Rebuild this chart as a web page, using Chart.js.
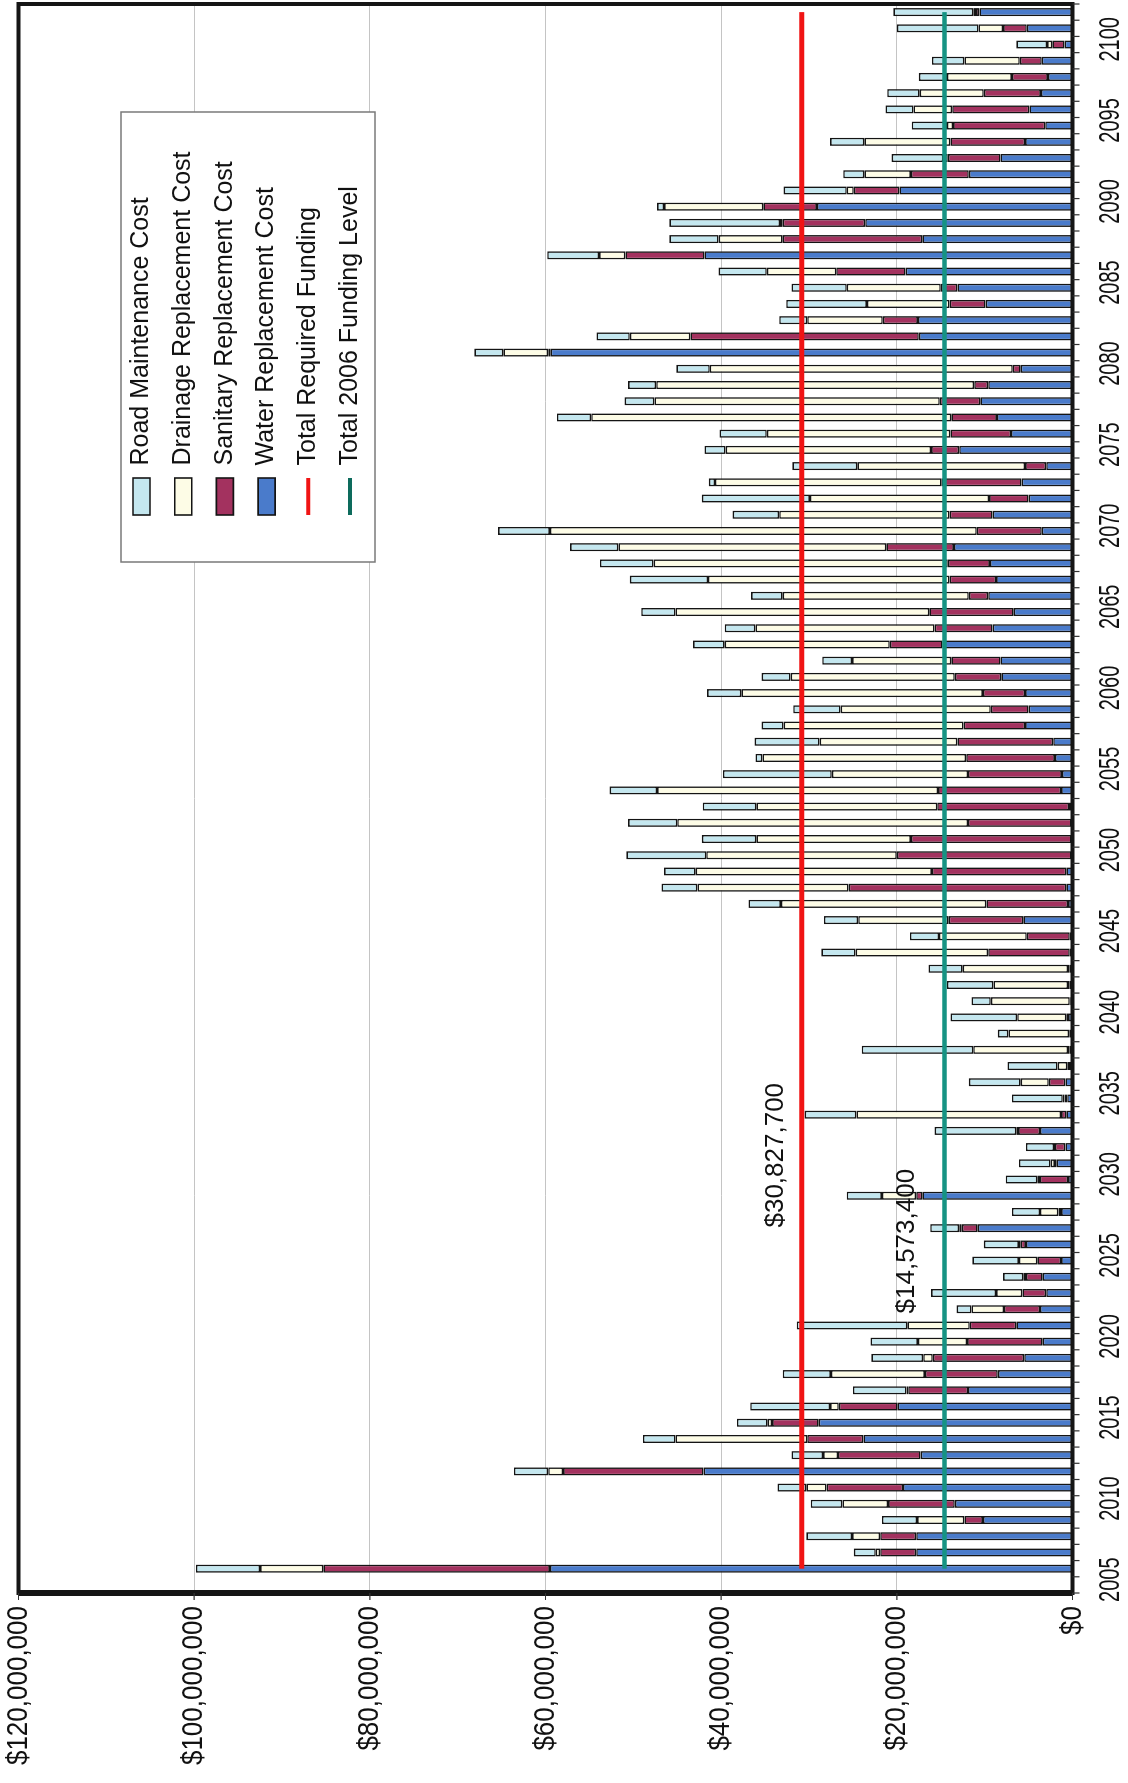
<!DOCTYPE html>
<html>
<head>
<meta charset="utf-8">
<script src="https://cdn.jsdelivr.net/npm/chart.js@4.4.1/dist/chart.umd.min.js"></script>
<style>
  html, body { margin: 0; padding: 0; background: #ffffff; overflow: hidden; }
  #wrap { position: absolute; left: 0; top: 0; width: 1128px; height: 1783px; overflow: hidden; background: #fff; }
  #c { position: absolute; left: 0; top: 0; width: 1783px; height: 1128px;
       transform-origin: 0 0; transform: translate(0px, 1783px) rotate(-90deg); }
</style>
</head>
<body>
<div id="wrap"><canvas id="c" width="1783" height="1128"></canvas></div>
<script>
// ---------- DATA (values in millions of dollars) ----------
const years = [2005,2006,2007,2008,2009,2010,2011,2012,2013,2014,2015,2016,2017,2018,2019,2020,
  2021,2022,2023,2024,2025,2026,2027,2028,2029,2030,2031,2032,2033,2034,2035,2036,2037,2038,2039,2040,
  2041,2042,2043,2044,2045,2046,2047,2048,2049,2050,2051,2052,2053,2054,2055,2056,2057,2058,2059,2060,
  2061,2062,2063,2064,2065,2066,2067,2068,2069,2070,2071,2072,2073,2074,2075,2076,2077,2078,2079,2080,
  2081,2082,2083,2084,2085,2086,2087,2088,2089,2090,2091,2092,2093,2094,2095,2096,2097,2098,2099,2100,2101];

const waterCost = [59.5,17.8,17.8,10.2,13.4,19.3,42.0,17.3,23.8,28.9,19.9,11.9,8.5,5.5,3.4,6.4,
  3.7,3.0,3.4,1.3,5.3,10.8,1.3,17.1,0.5,1.8,0.8,3.7,0.7,0.6,0.8,0.4,0.3,0.3,0.5,0.2,
  0.3,0.3,0.3,0.3,5.6,0.5,0.7,0.7,0.1,0.1,0.1,0.4,1.3,1.2,2.0,2.2,5.4,5.0,5.4,8.1,
  8.2,14.8,9.1,6.7,9.6,8.7,9.4,13.5,3.5,9.1,5.0,5.8,3.0,12.9,7.0,8.6,10.5,9.6,5.9,59.4,
  17.5,17.6,9.9,13.1,19.0,41.9,17.1,23.6,29.1,19.7,11.8,8.2,5.4,3.1,4.9,3.6,2.8,3.5,0.9,5.2,10.6];

const sanitaryCost = [25.8,4.1,4.1,2.1,7.6,8.7,16.0,9.4,6.4,5.3,6.7,6.8,8.3,10.4,8.6,5.3,
  4.1,2.7,1.9,2.7,0.6,1.8,0.3,0.7,3.2,0.2,1.2,2.5,0.6,0.3,1.9,0.2,0.2,0.1,0.2,0.1,
  0.2,0.2,9.3,4.9,8.5,9.3,24.8,15.3,19.9,18.3,11.8,15.0,14.0,10.7,10.1,10.9,7.0,4.3,4.8,5.3,
  5.6,6.0,6.6,9.6,2.2,5.3,4.8,7.7,7.4,4.9,4.5,9.1,2.4,3.2,6.9,5.2,4.6,1.6,0.9,0.3,
  26.0,4.0,4.1,1.9,7.9,9.0,15.9,9.4,6.1,5.2,6.6,6.0,8.5,10.5,8.8,6.5,4.1,2.5,1.4,2.7,0.4];

const drainageCost = [7.2,0.5,3.2,5.4,5.2,2.3,1.7,1.7,15.0,0.5,1.0,0.2,10.7,1.1,5.6,7.1,
  3.7,3.0,0.3,2.1,0.2,0.3,2.1,3.9,0.3,0.5,0.1,0.2,23.3,0.2,3.2,1.1,10.8,6.9,5.6,9.0,
  8.5,12.0,15.1,10.0,10.3,23.4,17.2,26.9,21.7,17.6,33.1,20.6,32.0,15.5,23.2,15.7,20.5,17.1,27.5,18.7,
  11.3,18.8,20.4,28.9,21.2,27.5,33.5,30.5,48.6,19.4,20.4,25.8,19.1,23.4,20.9,41.0,32.5,36.2,34.5,5.1,
  6.9,8.6,9.4,10.7,7.9,3.0,7.3,0.3,11.3,0.8,5.3,0.5,9.8,0.7,4.4,7.3,7.4,6.3,0.6,2.8,0.3];

const roadCost = [7.3,2.5,5.2,4.0,3.6,3.3,3.9,3.6,3.7,3.5,9.1,6.1,5.5,5.9,5.4,12.6,
  1.7,7.4,2.3,5.3,4.0,3.3,3.2,4.0,3.6,3.6,3.2,9.3,5.9,5.8,5.9,5.7,12.7,1.2,7.6,2.2,
  5.3,3.9,3.9,3.3,3.9,3.7,4.1,3.6,9.1,6.2,5.6,6.1,5.4,12.4,0.8,7.4,2.5,5.4,3.9,3.3,
  3.4,3.6,3.5,3.9,3.6,8.9,6.1,5.5,5.9,5.3,12.3,0.7,7.4,2.4,5.4,3.9,3.4,3.2,3.8,3.3,
  3.8,3.2,9.2,6.3,5.5,5.9,5.6,12.6,0.8,7.2,2.4,5.9,3.9,4.0,3.2,3.7,3.2,3.7,3.5,9.3,9.1];

const totalRequiredFunding = 30.8277;   // $30,827,700
const funding2006Level = 14.5734;       // $14,573,400

const valueTicks = [0, 20, 40, 60, 80, 100, 120];
const yearTicks = [2005,2010,2015,2020,2025,2030,2035,2040,2045,2050,2055,2060,2065,2070,2075,2080,2085,2090,2095,2100];

const seriesNames = ['Water Replacement Cost','Sanitary Replacement Cost','Drainage Replacement Cost','Road Maintenance Cost','Total Required Funding','Total 2006 Funding Level'];

// ---------- helpers ----------
const fmtMoney = v => '$' + Math.round(v * 1e6).toLocaleString('en-US');
const FONT = '"Liberation Sans", Arial, Helvetica, sans-serif';

function drawLegendFrame(ctx) {
  ctx.save();
  ctx.fillStyle = '#ffffff';
  ctx.fillRect(1221, 121, 450, 254);
  ctx.strokeStyle = '#7a7a7a';
  ctx.lineWidth = 1.5;
  ctx.strokeRect(1221, 121, 450, 254);
  ctx.restore();
}

const decor = {
  id: 'decor',
  afterLayout(chart) {
    const lg = chart.legend;
    if (!lg) return;
    lg.left = 1251.3; lg.top = 112.3;
    lg.right = lg.left + 440; lg.bottom = lg.top + 300;
    lg.width = 440; lg.height = 300;
    try { lg.adjustHitBoxes(); } catch (e) {}
    if (!lg._patched) {
      const orig = lg.draw;
      lg.draw = function (area) { drawLegendFrame(chart.ctx); orig.call(this, area); };
      lg._patched = true;
    }
  },
  afterDraw(chart) {
    const ctx = chart.ctx, a = chart.chartArea;
    const xs = chart.scales.x, ys = chart.scales.y;
    ctx.save();
    // plot frame
    ctx.strokeStyle = '#151515';
    ctx.lineWidth = 4;
    ctx.strokeRect(a.left, a.top, a.right - a.left, a.bottom - a.top);
    ctx.lineWidth = 6;
    ctx.beginPath(); ctx.moveTo(a.left, a.top); ctx.lineTo(a.left, a.bottom); ctx.stroke();
    // category tick marks (between years)
    ctx.lineWidth = 1.2;
    ctx.strokeStyle = '#333';
    ctx.beginPath();
    for (let b = xs.min; b <= xs.max + 0.01; b += 1) {
      const u = xs.getPixelForValue(b);
      ctx.moveTo(u, a.bottom); ctx.lineTo(u, a.bottom + 7);
    }
    ctx.stroke();
    // value tick marks
    ctx.beginPath();
    valueTicks.forEach(v => { const p = ys.getPixelForValue(v); ctx.moveTo(a.left - 7, p); ctx.lineTo(a.left, p); });
    ctx.stroke();
    // year labels (stretched glyphs like the scan)
    ctx.fillStyle = '#111';
    ctx.font = '20px ' + FONT;
    ctx.textAlign = 'center';
    ctx.textBaseline = 'middle';
    yearTicks.forEach(yr => {
      const u = xs.getPixelForValue(yr) - 11;
      ctx.save(); ctx.translate(u, a.bottom + 39); ctx.scale(1, 1.45);
      ctx.fillText(String(yr), 0, 0); ctx.restore();
    });
    // value labels
    ctx.font = '26px ' + FONT;
    ctx.textAlign = 'right';
    valueTicks.forEach(v => {
      const p = ys.getPixelForValue(v);
      ctx.save(); ctx.translate(a.left - 13, p); ctx.scale(1, 1.15);
      ctx.fillText(fmtMoney(v), 0, 0); ctx.restore();
    });
    // annotations
    ctx.font = '26px ' + FONT;
    ctx.textAlign = 'center';
    ctx.fillText(fmtMoney(totalRequiredFunding), xs.getPixelForValue(2030.5), ys.getPixelForValue(totalRequiredFunding) - 26);
    ctx.fillText(fmtMoney(funding2006Level), xs.getPixelForValue(2025.2), ys.getPixelForValue(funding2006Level) - 38);
    ctx.restore();
  }
};

const barCommon = { borderColor: '#141414', borderWidth: 1.6, borderSkipped: false,
  barPercentage: 0.5, categoryPercentage: 1.0, stack: 'costs', order: 1, pointStyle: 'rect' };

const chart = new Chart(document.getElementById('c'), {
  type: 'bar',
  data: {
    labels: years,
    datasets: [
      Object.assign({ label: seriesNames[0], data: waterCost, backgroundColor: '#4a7bcb' }, barCommon),
      Object.assign({ label: seriesNames[1], data: sanitaryCost, backgroundColor: '#a3325f' }, barCommon),
      Object.assign({ label: seriesNames[2], data: drainageCost, backgroundColor: '#fdfce6' }, barCommon),
      Object.assign({ label: seriesNames[3], data: roadCost, backgroundColor: '#c4e7ef' }, barCommon),
      { type: 'line', label: seriesNames[4], data: years.map(() => totalRequiredFunding),
        borderColor: '#f01414', backgroundColor: '#f01414', borderWidth: 5, pointRadius: 0,
        fill: false, stack: 'req', order: 0, pointStyle: 'line' },
      { type: 'line', label: seriesNames[5], data: years.map(() => funding2006Level),
        borderColor: '#169383', backgroundColor: '#0d6b5c', borderWidth: 4.5, pointRadius: 0,
        fill: false, stack: 'fund', order: 0, pointStyle: 'line' }
    ]
  },
  options: {
    responsive: false,
    maintainAspectRatio: false,
    devicePixelRatio: 1,
    animation: false,
    events: [],
    layout: { padding: { left: 190, right: 4, top: 18.5, bottom: 55.5 } },
    scales: {
      x: {
        type: 'linear', min: 2003.5, max: 2101.5, offset: false, stacked: true,
        grid: { display: false, drawTicks: false }, border: { display: false },
        ticks: { display: false },
        afterFit: s => { s.height = 0; }
      },
      y: {
        type: 'linear', min: 0, max: 120, stacked: true,
        ticks: { display: false, stepSize: 20 },
        grid: { color: '#c4c4c4', lineWidth: 1, drawTicks: false, z: -1 },
        border: { display: false },
        afterFit: s => { s.width = 0; }
      }
    },
    plugins: {
      title: { display: false },
      tooltip: { enabled: false },
      legend: {
        position: 'chartArea',
        align: 'start',
        labels: {
          font: { family: FONT, size: 25 },
          color: '#111',
          usePointStyle: true,
          pointStyleWidth: 37,
          boxHeight: 17,
          padding: 16.7,
          generateLabels(ch) {
            const items = Chart.defaults.plugins.legend.labels.generateLabels(ch);
            const order = [3, 2, 1, 0, 4, 5];
            return order.map(i => {
              const it = items.find(t => t.datasetIndex === i);
              const ds = ch.data.datasets[i];
              if (ds.type === 'line') {
                it.pointStyle = 'line'; it.strokeStyle = ds.backgroundColor; it.fillStyle = ds.backgroundColor; it.lineWidth = 4;
              } else {
                it.pointStyle = 'rect'; it.fillStyle = ds.backgroundColor; it.strokeStyle = '#141414'; it.lineWidth = 1.6;
              }
              return it;
            });
          }
        }
      }
    }
  },
  plugins: [decor]
});
</script>
</body>
</html>
